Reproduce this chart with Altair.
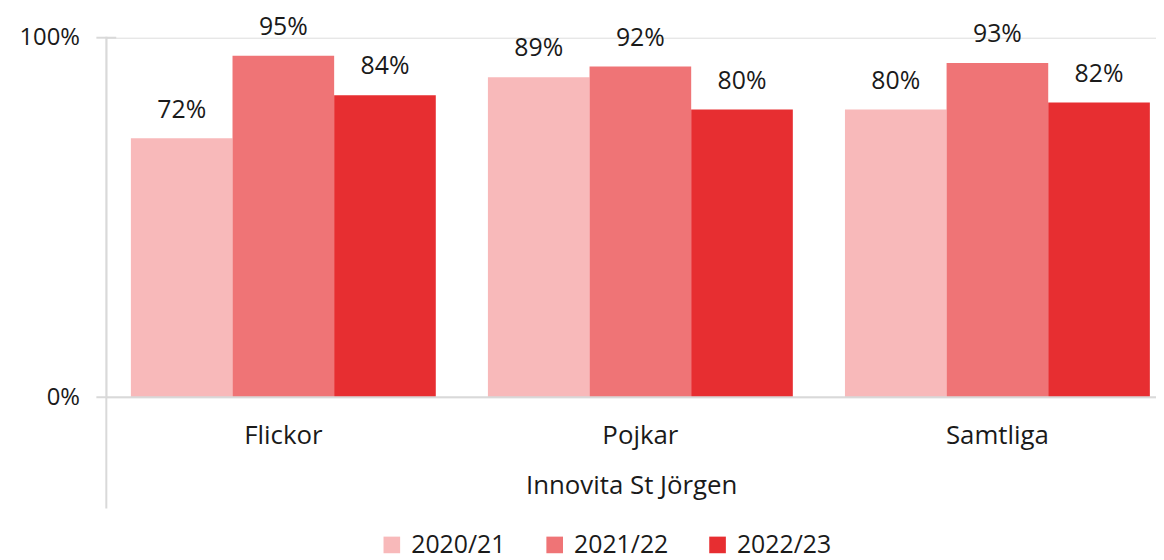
import altair as alt
import pandas as pd

groups = ["Flickor", "Pojkar", "Samtliga"]
years = ["2020/21", "2021/22", "2022/23"]
values = {
    "2020/21": [72, 89, 80],
    "2021/22": [95, 92, 93],
    "2022/23": [84, 80, 82],
}
colors = ["#F8B9BA", "#EF7476", "#E72E31"]
axis_title = "Innovita St Jörgen"

rows = []
for y in years:
    for g, v in zip(groups, values[y]):
        rows.append({"grupp": g, "år": y, "värde": v})
df = pd.DataFrame(rows)

FONT = "Open Sans"
TXT = "#1a1a1a"
GRID = "#D9D9D9"
W, H = 1057, 362

xscale = alt.Scale(paddingInner=0.146, paddingOuter=0.043, align=0.8)
yscale = alt.Scale(domain=[0, 100])

base = alt.Chart(df)

bars = base.mark_bar().encode(
    x=alt.X("grupp:N", sort=groups, scale=xscale,
            axis=alt.Axis(title=axis_title, labelAngle=0, domain=False, ticks=False,
                          tickSize=0, labelPadding=26, titlePadding=24,
                          labelFontSize=26, titleFontSize=26, labelFont=FONT,
                          titleFont=FONT, labelColor=TXT, titleColor=TXT,
                          titleFontWeight="normal")),
    xOffset=alt.XOffset("år:N", sort=years),
    y=alt.Y("värde:Q", scale=yscale,
            axis=alt.Axis(title=None, values=[0, 100], labelExpr="datum.value + '%'",
                          domain=False, ticks=False, tickSize=0, grid=False,
                          labelPadding=27, labelFontSize=24, labelFont=FONT,
                          labelColor=TXT)),
    color=alt.Color("år:N", sort=years, scale=alt.Scale(domain=years, range=colors),
                    legend=alt.Legend(title=None, orient="none", direction="horizontal",
                                      legendX=275, legendY=498, symbolType="square",
                                      symbolSize=280, symbolStrokeWidth=0,
                                      labelFontSize=25, labelFont=FONT, labelColor=TXT,
                                      columnPadding=37, labelOffset=7)),
)

labels = base.mark_text(baseline="alphabetic", dy=-21, fontSize=25, font=FONT,
                        color=TXT).encode(
    x=alt.X("grupp:N", sort=groups, scale=xscale),
    xOffset=alt.XOffset("år:N", sort=years),
    y=alt.Y("värde:Q", scale=yscale),
    text=alt.Text("label:N"),
).transform_calculate(label="datum['värde'] + '%'")

rule_df = pd.DataFrame({"v": [0]})
baseline = alt.Chart(rule_df).mark_rule(color=GRID, strokeWidth=2).encode(
    y=alt.Y("v:Q", scale=yscale), x=alt.value(-10), x2=alt.value(W))
top_tick = alt.Chart(pd.DataFrame({"v": [100]})).mark_rule(color=GRID, strokeWidth=2).encode(
    y=alt.Y("v:Q", scale=yscale), x=alt.value(-10), x2=alt.value(10))
vaxis = alt.Chart(rule_df).mark_rule(color=GRID, strokeWidth=2).encode(
    x=alt.value(0), y=alt.value(-1), y2=alt.value(474))

chart = alt.layer(bars, labels, baseline, top_tick, vaxis).properties(
    width=W, height=H,
    autosize=alt.AutoSizeParams(type="none"),
    padding={"left": 99, "top": 28, "right": 0, "bottom": 162},
).configure_view(stroke=None).configure(font=FONT)

chart.save("out.html", embed_options={"renderer": "svg", "actions": False})
